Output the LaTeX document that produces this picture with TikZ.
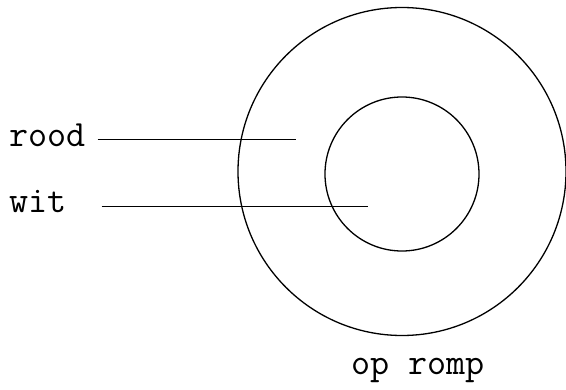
\documentclass[tikz,border=0pt]{standalone}
\usepackage{fontspec}
\usepackage{tikz}
\usetikzlibrary{positioning,calc}
\tikzset{
  % --- nodes
  ring/.style  = {circle, draw=black, line width=1.3pt, inner sep=0pt},
  lbl/.style   = {font=\ttfamily\fontsize{37}{44}\selectfont, inner sep=0pt,
                  anchor=base west},
  % --- edges
  lead/.style  = {draw=black, line width=1pt},
}
\begin{document}
\begin{tikzpicture}[x=1pt,y=1pt]
  \useasboundingbox (0,0) rectangle (566,389);
  \node[ring, minimum size=328pt] (romp) at (402,217.5) {};
  \node[ring, minimum size=154pt] (kern) at (402,215) {};
  \node[lbl] (rood) at (9,242) {rood};
  \node[lbl] (wit)  at (9,176) {wit};
  \node[lbl] (opromp) at (351,14) {op romp};
  \coordinate (roodtip) at (296,249);
  \coordinate (wittip)  at (368,182);
  \draw[lead] ([xshift=12pt]rood.east |- roodtip) -- (roodtip);
  \draw[lead] ([xshift=35pt]wit.east |- wittip) -- (wittip);
\end{tikzpicture}
\end{document}
